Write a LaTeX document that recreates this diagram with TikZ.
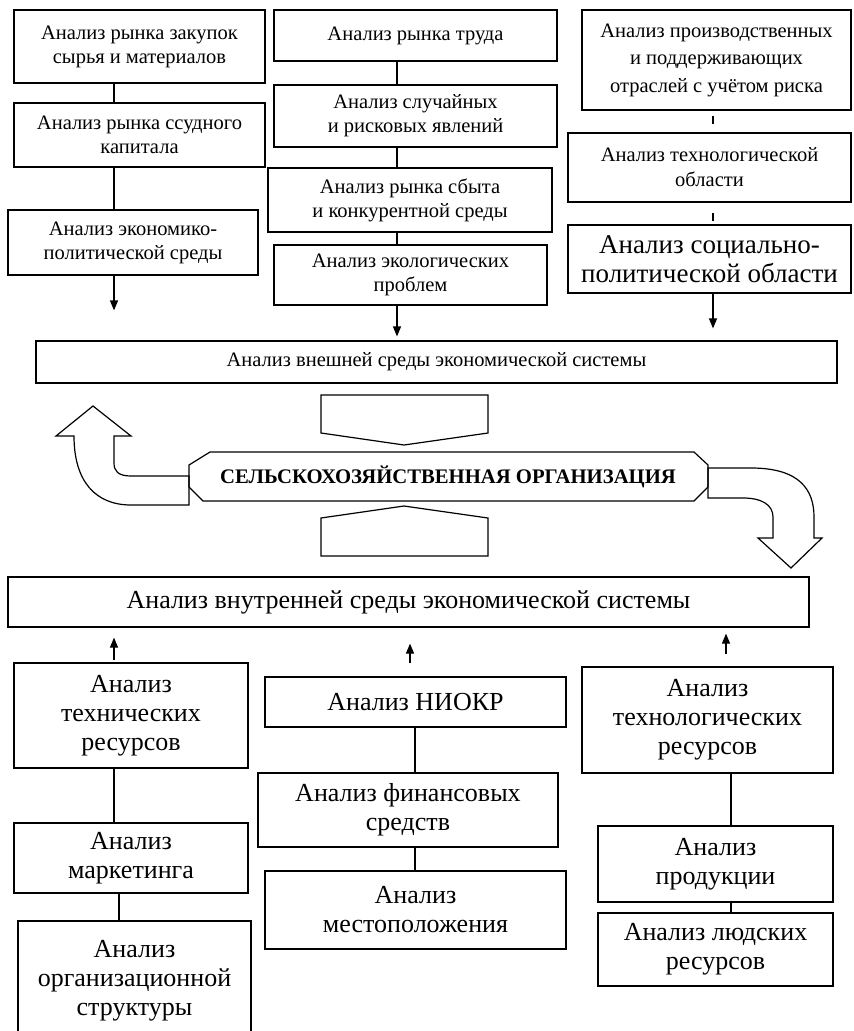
\documentclass[tikz,border=0pt]{standalone}
\usepackage{fontspec}
\setmainfont{Liberation Serif}
\usetikzlibrary{arrows.meta}
\begin{document}
\begin{tikzpicture}[x=1pt,y=-1pt,
  box/.style={draw, line width=1.2pt, align=center, inner sep=0pt},
  ts/.style={font=\fontsize{20.5}{24}\selectfont},
  tm/.style={font=\fontsize{27}{29}\selectfont},
  tl/.style={font=\fontsize{26}{29}\selectfont},
  conn/.style={line width=1.2pt},
  arr/.style={conn, -{Triangle[length=10pt,width=8pt]}},
  big/.style={draw, line width=1.2pt, line join=miter}
]
\useasboundingbox (0,0) rectangle (854,1031);
\fill[white] (0,0) rectangle (854,1031);

% column coordinates
\coordinate (xa) at (114,0);
\coordinate (xb) at (397,0);
\coordinate (xc) at (713,0);
\coordinate (xd2) at (119,0);
\coordinate (xe) at (410,0);
\coordinate (xe2) at (415,0);
\coordinate (xf) at (726,0);
\coordinate (xf2) at (731,0);

% top left column
\node[box,ts,minimum width=251pt,minimum height=73pt] (a1) at (139.5,46.5) {Анализ рынка закупок\\сырья и материалов};
\node[box,ts,minimum width=251pt,minimum height=64pt] (a2) at (139.5,135) {Анализ рынка ссудного\\капитала};
\node[box,ts,minimum width=250pt,minimum height=65pt] (a3) at (133,242.5) {Анализ экономико-\\политической среды};

% top middle column
\node[box,ts,minimum width=283pt,minimum height=51pt] (b1) at (415.5,35.5) {Анализ рынка труда};
\node[box,ts,minimum width=283pt,minimum height=62pt] (b2) at (415.5,116) {Анализ случайных\\и рисковых явлений};
\node[box,ts,minimum width=284pt,minimum height=64pt] (b3) at (410,200) {Анализ рынка сбыта\\и конкурентной среды};
\node[box,ts,minimum width=273pt,minimum height=60pt] (b4) at (410.5,275) {Анализ экологических\\проблем};

% top right column
\node[box,font=\fontsize{20.5}{27.5}\selectfont,minimum width=269pt,minimum height=100pt] (c1) at (716.5,60) {Анализ производственных\\и поддерживающих\\отраслей с учётом риска};
\node[box,font=\fontsize{20.5}{25}\selectfont,minimum width=283pt,minimum height=69pt] (c2) at (709.5,167.5) {Анализ технологической\\области};
\node[box,tm,minimum width=283pt,minimum height=68pt] (c3) at (709.5,259) {Анализ социально-\\политической области};

% external environment
\node[box,ts,minimum width=801pt,minimum height=42pt] (ext) at (436.5,362) {Анализ внешней среды экономической системы};

% top connectors
\draw[conn] (a1.south -| xa) -- (a2.north -| xa);
\draw[conn] (a2.south -| xa) -- (a3.north -| xa);
\draw[arr, shorten >=30pt] (a3.south -| xa) -- (ext.north -| xa);
\draw[conn] (b1.south -| xb) -- (b2.north -| xb);
\draw[conn] (b2.south -| xb) -- (b3.north -| xb);
\draw[conn] (b3.south -| xb) -- (b4.north -| xb);
\draw[arr, shorten >=4pt] (b4.south -| xb) -- (ext.north -| xb);
\draw[conn, shorten <=5pt, shorten >=8pt] (c1.south -| xc) -- (c2.north -| xc);
\draw[conn, shorten <=10pt, shorten >=3pt] (c2.south -| xc) -- (c3.north -| xc);
\draw[arr, shorten >=12pt] (c3.south -| xc) -- (ext.north -| xc);

% central block arrows
\draw[big] (321,395) -- (488,395) -- (488,433) -- (404,445) -- (321,433) -- cycle;
\draw[big] (321,556) -- (488,556) -- (488,518) -- (404,506) -- (321,518) -- cycle;
\draw[big] (189,476) -- (131,476) .. controls (118,476) and (114,471) .. (114,463) -- (114,436) -- (131,436) -- (93,406) -- (56,436) -- (74,436) .. controls (74,482) and (96,505) .. (131,505) -- (189,505) -- cycle;
\draw[big] (708,468) -- (751,468) .. controls (800,468) and (814,490) .. (814,517) -- (814,538) -- (822,538) -- (791,568) -- (758,538) -- (773,538) -- (773,517) .. controls (773,505) and (762,498) .. (743,498) -- (708,498) -- cycle;
\draw[big] (210,452) -- (694,452) -- (708,465) -- (708,487) -- (694,501) -- (203,501) -- (189,487) -- (189,465) -- cycle;
\node[font=\bfseries\fontsize{20.7}{24}\selectfont] (org) at (448,477) {СЕЛЬСКОХОЗЯЙСТВЕННАЯ ОРГАНИЗАЦИЯ};

% internal environment
\node[box,tl,minimum width=801pt,minimum height=50pt] (int) at (408.5,602) {Анализ внутренней среды экономической системы};

% bottom columns
\node[box,tl,minimum width=234pt,minimum height=105pt] (d1) at (131,715.5) {Анализ\\технических\\ресурсов};
\node[box,tl,minimum width=234pt,minimum height=70pt] (d2) at (131,858) {Анализ\\маркетинга};
\node[box,tl,minimum width=233pt,minimum height=120pt] (d3) at (134.5,981) {Анализ\\организационной\\структуры};

\node[box,tl,minimum width=301pt,minimum height=50pt] (e1) at (415.5,702) {Анализ НИОКР};
\node[box,tl,minimum width=300pt,minimum height=74pt] (e2) at (408,810) {Анализ финансовых\\средств};
\node[box,tl,minimum width=301pt,minimum height=78pt] (e3) at (415.5,910) {Анализ\\местоположения};

\node[box,tl,minimum width=251pt,minimum height=106pt] (f1) at (707.5,720) {Анализ\\технологических\\ресурсов};
\node[box,tl,minimum width=235pt,minimum height=76pt] (f2) at (715.5,864) {Анализ\\продукции};
\node[box,tl,minimum width=235pt,minimum height=73pt] (f3) at (715.5,949.5) {Анализ людских\\ресурсов};

% bottom connectors
\draw[arr, shorten <=2pt, shorten >=10pt] (d1.north -| xa) -- (int.south -| xa);
\draw[arr, shorten <=13pt, shorten >=16pt] (e1.north -| xe) -- (int.south -| xe);
\draw[arr, shorten <=12pt, shorten >=6pt] (f1.north -| xf) -- (int.south -| xf);
\draw[conn] (d1.south -| xa) -- (d2.north -| xa);
\draw[conn] (d2.south -| xd2) -- (d3.north -| xd2);
\draw[conn] (e1.south -| xe2) -- (e2.north -| xe2);
\draw[conn] (e2.south -| xe2) -- (e3.north -| xe2);
\draw[conn] (f1.south -| xf2) -- (f2.north -| xf2);
\draw[conn] (f2.south -| xf2) -- (f3.north -| xf2);
\end{tikzpicture}
\end{document}
